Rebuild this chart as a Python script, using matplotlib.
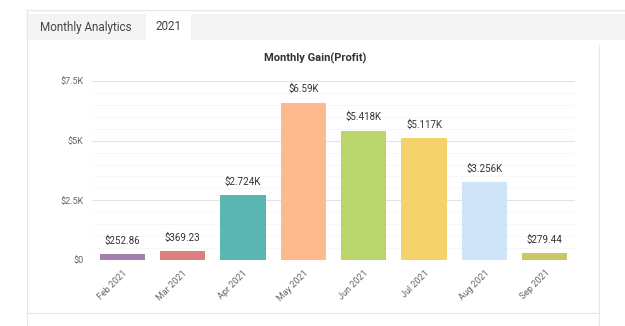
import matplotlib.pyplot as plt
from matplotlib.patches import Rectangle
from matplotlib.lines import Line2D
from matplotlib.ticker import MultipleLocator, FuncFormatter

# data
months = ['Feb 2021', 'Mar 2021', 'Apr 2021', 'May 2021',
          'Jun 2021', 'Jul 2021', 'Aug 2021', 'Sep 2021']
gain = [252.86, 369.23, 2724, 6590, 5418, 5117, 3256, 279.44]
labels = ['$252.86', '$369.23', '$2.724K', '$6.59K',
          '$5.418K', '$5.117K', '$3.256K', '$279.44']
colors = ['#a57fb0', '#e07d7d', '#5bb5b1', '#ffb98e',
          '#b9d56b', '#f6d26d', '#cfe4f8', '#c9c865']

plt.rcParams['font.family'] = ['Roboto', 'DejaVu Sans']

fig = plt.figure(figsize=(6.25, 3.26), dpi=100)
W, H = 625, 326

def px(x, y):
    # pixel coords (top-left origin) -> figure fraction
    return x / W, 1 - y / H

# page frame / tabs
fig.add_artist(Line2D([26 / W, 1], [1 - 10 / H] * 2, color='#e6e6e6', lw=0.8))
fig.add_artist(Line2D([27 / W] * 2, [0, 1 - 10 / H], color='#e6e6e6', lw=0.8))
fig.add_artist(Rectangle(px(28, 40), (W - 28) / W, 26 / H, color='#f4f4f4', lw=0))
fig.add_artist(Rectangle(px(146, 41), 45 / W, 28 / H, color='white', lw=0))
fig.text(*px(40, 27), 'Monthly Analytics', fontsize=8.4, color='#444444', va='center')
fig.text(*px(156, 27), '2021', fontsize=8.4, color='#444444', va='center')
fig.add_artist(Line2D([599 / W] * 2, [0, 1 - 45 / H], color='#e6e6e6', lw=0.8))
fig.add_artist(Line2D([28 / W, 599 / W], [1 - 313 / H] * 2, color='#e6e6e6', lw=0.8))

ax = fig.add_axes([92 / W, 1 - 260 / H, (575 - 92) / W, (260 - 81) / H])
x = range(len(months))
bars = ax.bar(x, gain, width=0.75, color=colors, zorder=3)
for b, lab in zip(bars, labels):
    ax.annotate(lab, (b.get_x() + b.get_width() / 2, b.get_height()),
                xytext=(0, 6), textcoords='offset points',
                ha='center', va='bottom', fontsize=7, color='#333333')

ax.set_xlim(-0.5, len(months) - 0.5)
ax.set_ylim(0, 7500)
ax.yaxis.set_major_locator(MultipleLocator(2500))
ax.yaxis.set_minor_locator(MultipleLocator(500))
ax.yaxis.set_major_formatter(FuncFormatter(
    lambda v, p: '$0' if v == 0 else f'${v / 1000:g}K'))
ax.grid(axis='y', which='major', color='#e3e3e3', lw=0.8, zorder=0)
ax.grid(axis='y', which='minor', color='#f6f6f6', lw=0.6, zorder=0)
ax.set_xticks(list(x))
ax.set_xticklabels(months, rotation=45, ha='right', rotation_mode='anchor')
ax.tick_params(axis='both', which='both', length=0, labelsize=6.5,
               labelcolor='#666666')
ax.tick_params(axis='y', pad=6)
ax.tick_params(axis='x', pad=6)
for s in ax.spines.values():
    s.set_visible(False)

fig.text(*px(315, 58), 'Monthly Gain(Profit)', fontsize=8, fontweight='bold',
         color='#333333', ha='center', va='center')

fig.savefig('out.png', dpi=100)
